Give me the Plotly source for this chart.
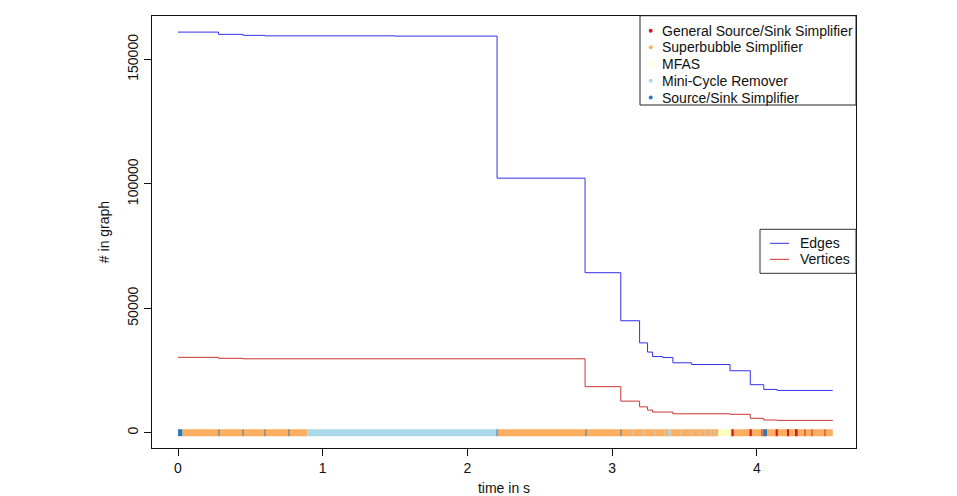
import plotly.graph_objects as go

# ---------------- data ----------------
edges_t = [0.0, 0.28, 0.45, 0.60, 1.50, 2.205, 2.813, 3.06, 3.19, 3.245, 3.28, 3.35, 3.42, 3.55, 3.815, 3.955, 4.048, 4.14, 4.525]
edges_v = [161000, 160100, 159700, 159500, 159400, 102300, 64300, 45000, 36100, 32400, 30600, 30200, 28100, 27400, 24900, 19300, 17400, 17000, 17000]

vert_t = [0.0, 0.28, 0.45, 2.813, 3.06, 3.19, 3.245, 3.28, 3.42, 3.815, 3.955, 4.048, 4.14, 4.525]
vert_v = [30300, 29900, 29700, 18500, 12700, 10400, 9100, 8300, 7600, 7400, 5800, 5100, 4950, 4950]

algorithms = ["General Source/Sink Simplifier", "Superbubble Simplifier", "MFAS",
              "Mini-Cycle Remover", "Source/Sink Simplifier"]
algo_colors = ["#D7191C", "#FDAE61", "#FFFFBF", "#ABD9E9", "#2C7BB6"]

# phases of each algorithm on the time line (start, end) in s
sb_start = [0.03, 2.203, 3.82]
sb_end = [0.895, 3.735, 4.525]
mc_start = [0.895, 3.140, 3.210, 3.290, 3.360, 3.390, 3.470, 3.540, 3.600, 3.640, 3.680, 3.710]
mc_end = [2.203, 3.147, 3.217, 3.297, 3.367, 3.410, 3.477, 3.547, 3.607, 3.647, 3.687, 3.717]
ss_start = [0.0, 0.283, 0.445, 0.597, 0.765, 2.203, 2.815, 3.055, 4.045]
ss_end = [0.03, 0.290, 0.452, 0.604, 0.772, 2.212, 2.822, 3.062, 4.070]
mfas_start = [3.735]
mfas_end = [3.82]
gss_start = [3.825, 3.950, 4.035, 4.130, 4.210, 4.270, 4.327, 4.377, 4.466]
gss_end = [3.840, 3.965, 4.045, 4.145, 4.222, 4.282, 4.338, 4.388, 4.478]

x_ticks = [0, 1, 2, 3, 4]
y_ticks = [0, 50000, 100000, 150000]

# ---------------- figure ----------------
W, H = 957, 496
ML, MR, MT, MB = 152, 101, 16, 48
PW, PH = W - ML - MR, H - MT - MB

def px(xp):
    return (xp - ML) / PW

def py(yp):
    return (H - MB - yp) / PH

fig = go.Figure()

strip_h = 2800
def add_strip(starts, ends, color, name):
    durs = [e - s for s, e in zip(starts, ends)]
    # very short phases are rendered faintly (sub-pixel in the original)
    op = [1.0 if d > 0.012 else 0.45 for d in durs]
    fig.add_trace(go.Bar(
        y=[0] * len(starts), x=durs, base=starts,
        orientation="h", width=strip_h, marker=dict(color=color, opacity=op, line=dict(width=0)),
        name=name, showlegend=False))

add_strip(sb_start, sb_end, algo_colors[1], algorithms[1])
add_strip(mc_start, mc_end, algo_colors[3], algorithms[3])
add_strip(mfas_start, mfas_end, algo_colors[2], algorithms[2])
add_strip(ss_start, ss_end, algo_colors[4], algorithms[4])
add_strip(gss_start, gss_end, algo_colors[0], algorithms[0])

edge_col = "#3030e8"
vert_col = "#cc3333"
fig.add_trace(go.Scatter(x=edges_t, y=edges_v, mode="lines", line=dict(color=edge_col, width=1, shape="hv"),
                         name="Edges", showlegend=False))
fig.add_trace(go.Scatter(x=vert_t, y=vert_v, mode="lines", line=dict(color=vert_col, width=1, shape="hv"),
                         name="Vertices", showlegend=False))

font = dict(family="Liberation Sans, Arial, sans-serif", size=14, color="#111111")

fig.update_layout(
    width=W, height=H, margin=dict(l=ML, r=MR, t=MT, b=MB, autoexpand=False),
    paper_bgcolor="white", plot_bgcolor="white", font=font, barmode="overlay",
    showlegend=False,
    xaxis=dict(range=[-0.1797, 4.6855], tickvals=x_ticks, ticktext=[str(v) for v in x_ticks],
               showline=True, mirror=True, linecolor="#111111", linewidth=1,
               ticks="outside", ticklen=7, tickcolor="#111111", showgrid=False, zeroline=False,
               title=dict(text="time in s", standoff=19, font=font), automargin=False),
    yaxis=dict(range=[-6145, 167470], tickvals=y_ticks, ticktext=[str(v) for v in y_ticks],
               tickangle=-90, showline=True, mirror=True, linecolor="#111111", linewidth=1,
               ticks="outside", ticklen=7, tickcolor="#111111", showgrid=False, zeroline=False,
               title=dict(text="# in graph", standoff=12, font=font), automargin=False),
)

# ---------------- legends (drawn like R's legend boxes) ----------------
shapes = []
annotations = []
# legend 1: algorithms
shapes.append(dict(type="rect", xref="paper", yref="paper", x0=px(640), x1=px(856), y0=py(105), y1=py(15.7),
                   line=dict(color="#222222", width=1), fillcolor="rgba(0,0,0,0)"))
leg1_y = [30.7, 47.3, 64.0, 80.8, 97.6]
for name, col, yy in zip(algorithms, algo_colors, leg1_y):
    shapes.append(dict(type="circle", xref="paper", yref="paper", xsizemode="pixel", ysizemode="pixel",
                       xanchor=px(650.7), yanchor=py(yy), x0=-2, x1=2, y0=-2, y1=2,
                       fillcolor=col, line=dict(width=0)))
    annotations.append(dict(text=name, xref="paper", yref="paper", x=px(660), y=py(yy),
                            xanchor="left", yanchor="middle", showarrow=False, font=font))
# legend 2: lines
shapes.append(dict(type="rect", xref="paper", yref="paper", x0=px(760), x1=px(856), y0=py(273.3), y1=py(229.3),
                   line=dict(color="#333333", width=1), fillcolor="white"))
for name, col, yy in zip(["Edges", "Vertices"], [edge_col, vert_col], [243.3, 259.3]):
    shapes.append(dict(type="line", xref="paper", yref="paper", x0=px(770), x1=px(789), y0=py(yy), y1=py(yy),
                       line=dict(color=col, width=1)))
    annotations.append(dict(text=name, xref="paper", yref="paper", x=px(798), y=py(yy),
                            xanchor="left", yanchor="middle", showarrow=False, font=font))

fig.update_layout(shapes=shapes, annotations=annotations)

fig.write_html("out.html")
